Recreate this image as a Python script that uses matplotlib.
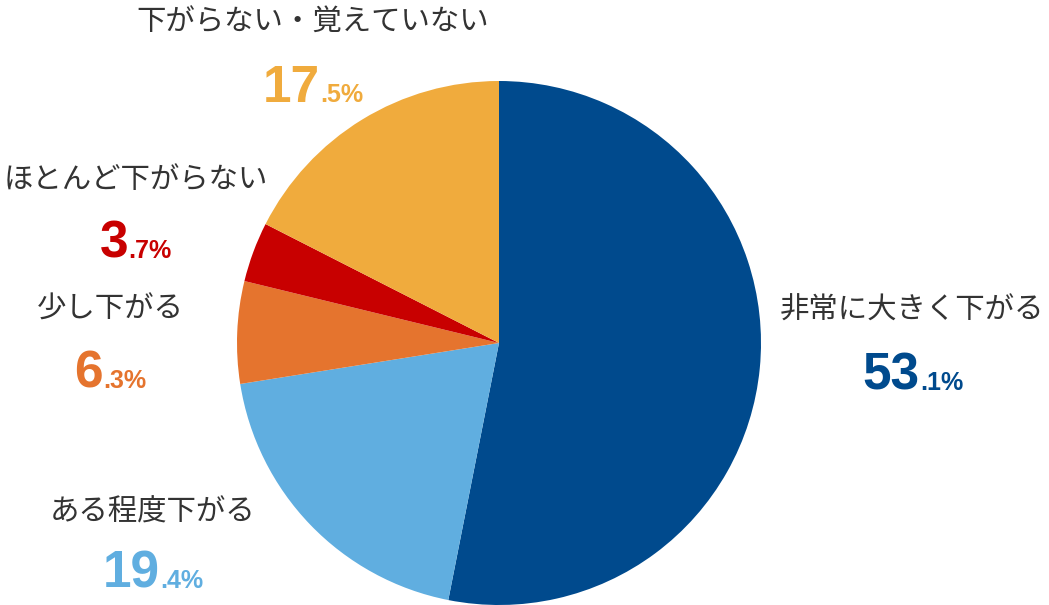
import matplotlib.pyplot as plt

# Data

labels = ["非常に大きく下がる", "ある程度下がる", "少し下がる", "ほとんど下がらない", "下がらない・覚えていない"]
values = [53.1, 19.4, 6.3, 3.7, 17.5]
colors = ["#004A8D", "#60AEE0", "#E5742E", "#C80000", "#F0AB3D"]

# label placement in pixels: label centre x, label centre y, number split x, number baseline y
label_pos = [
    (912, 310, 920, 390),
    (153, 512, 160, 588),
    (110, 309, 103, 388),
    (136, 180, 128, 258),
    (313, 22, 320, 102),
]

W, H = 1049, 605
fig = plt.figure(figsize=(W / 100, H / 100), dpi=100)

# pie occupies x 237..761, y 81..605
ax = fig.add_axes([237 / W, 0 / H, 524 / W, 524 / H])
ax.pie(values, colors=colors, startangle=90, counterclock=False,
       wedgeprops=dict(linewidth=0))
ax.set_xlim(-1, 1)
ax.set_ylim(-1, 1)
ax.set_aspect("equal")
ax.axis("off")

jp_font = ["Noto Sans CJK JP", "DejaVu Sans"]
num_font = ["Liberation Sans", "DejaVu Sans"]

for lab, val, col, (lx, ly, sx, sy) in zip(labels, values, colors, label_pos):
    fig.text(lx / W, 1 - ly / H, lab, ha="center", va="center",
             fontsize=21.2, color="#333333", family=jp_font)
    big, small = f"{val:.1f}".split(".")
    fig.text(sx / W, 1 - sy / H, big, ha="right", va="baseline",
             fontsize=37, fontweight="bold", color=col, family=num_font)
    fig.text(sx / W, 1 - sy / H, "." + small + "%", ha="left", va="baseline",
             fontsize=18, fontweight="bold", color=col, family=num_font)

fig.savefig("out.png", dpi=100)
